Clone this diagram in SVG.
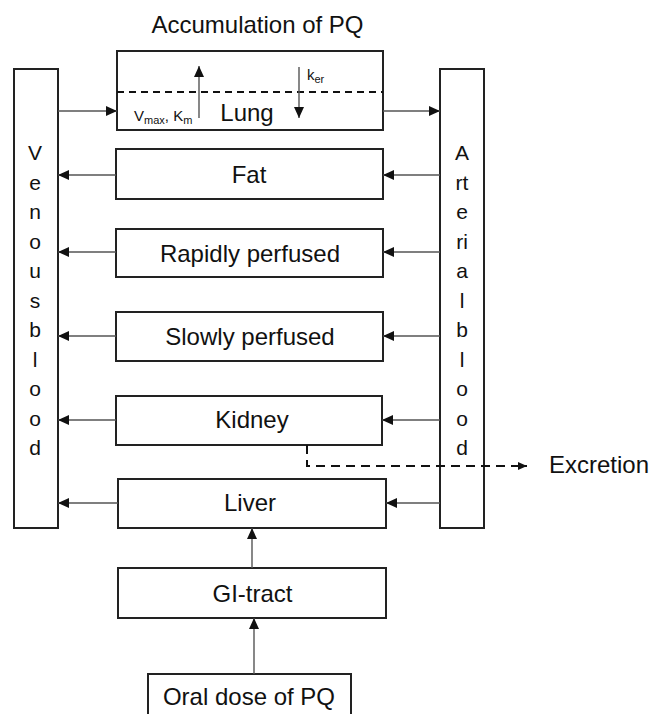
<svg xmlns="http://www.w3.org/2000/svg" width="651" height="714" viewBox="0 0 651 714">
<defs>
<marker id="ah" markerUnits="userSpaceOnUse" markerWidth="12" markerHeight="10" refX="11" refY="5" orient="auto">
<path d="M0,0 L11,5 L0,10 Z" fill="#111"/>
</marker>
<marker id="ahs" markerUnits="userSpaceOnUse" markerWidth="10" markerHeight="8" refX="9" refY="4" orient="auto">
<path d="M0,0 L9,4 L0,8 Z" fill="#111"/>
</marker>
<style>
rect.box{fill:#fff;stroke:#222;stroke-width:2}
text{font-family:"Liberation Sans",Arial,sans-serif;fill:#111}
.lbl{font-size:24px;text-anchor:middle}
.col{font-size:21px;text-anchor:middle}
.sm{font-size:15px}
.sub{font-size:11px}
line.c{stroke:#555;stroke-width:1.4;marker-end:url(#ah)}
line.d{stroke:#111;stroke-width:2;stroke-dasharray:9,6}
</style>
</defs>
<rect width="651" height="714" fill="#fff"/>

<text class="lbl" x="257.5" y="33">Accumulation of PQ</text>

<g id="venous">
<rect class="box" x="14" y="69" width="44" height="459"/>
<text class="col" x="35" y="160">V</text>
<text class="col" x="35" y="189.5">e</text>
<text class="col" x="35" y="219">n</text>
<text class="col" x="35" y="248.5">o</text>
<text class="col" x="35" y="278">u</text>
<text class="col" x="35" y="307.5">s</text>
<text class="col" x="35" y="337">b</text>
<text class="col" x="35" y="366.5">l</text>
<text class="col" x="35" y="396">o</text>
<text class="col" x="35" y="425.5">o</text>
<text class="col" x="35" y="455">d</text>
</g>

<g id="arterial">
<rect class="box" x="440" y="69" width="44" height="459"/>
<text class="col" x="462" y="160">A</text>
<text class="col" x="462" y="189.5">rt</text>
<text class="col" x="462" y="219">e</text>
<text class="col" x="462" y="248.5">ri</text>
<text class="col" x="462" y="278">a</text>
<text class="col" x="462" y="307.5">l</text>
<text class="col" x="462" y="337">b</text>
<text class="col" x="462" y="366.5">l</text>
<text class="col" x="462" y="396">o</text>
<text class="col" x="462" y="425.5">o</text>
<text class="col" x="462" y="455">d</text>
</g>

<g id="lung">
<rect class="box" x="117" y="51" width="266" height="79"/>
<line x1="117" y1="92" x2="383" y2="92" stroke="#111" stroke-width="2" stroke-dasharray="7,5"/>
<line x1="199" y1="118" x2="199" y2="66" stroke="#555" stroke-width="1.4" marker-end="url(#ah)"/>
<line x1="299" y1="67" x2="299" y2="118" stroke="#555" stroke-width="1.4" marker-end="url(#ah)"/>
<text class="lbl" x="247" y="121">Lung</text>
<text x="134" y="121" class="sm">V<tspan class="sub" dy="3">max</tspan><tspan dy="-3">, K</tspan><tspan class="sub" dy="3">m</tspan></text>
<text x="307" y="80" class="sm">k<tspan class="sub" dy="3">er</tspan></text>
</g>

<g id="fat">
<rect class="box" x="116" y="149" width="267" height="50"/>
<text class="lbl" x="249" y="183">Fat</text>
</g>
<g id="rapid">
<rect class="box" x="116" y="229" width="267" height="48"/>
<text class="lbl" x="250" y="262">Rapidly perfused</text>
</g>
<g id="slow">
<rect class="box" x="116" y="312" width="267" height="49"/>
<text class="lbl" x="250" y="345">Slowly perfused</text>
</g>
<g id="kidney">
<rect class="box" x="116" y="396" width="266" height="49"/>
<text class="lbl" x="252" y="428">Kidney</text>
</g>
<g id="liver">
<rect class="box" x="118" y="479" width="268" height="49"/>
<text class="lbl" x="250" y="511">Liver</text>
</g>
<g id="gi">
<rect class="box" x="118" y="568" width="268" height="50"/>
<text class="lbl" x="252.5" y="602">GI-tract</text>
</g>
<g id="oral">
<rect class="box" x="148" y="674" width="203" height="50"/>
<text class="lbl" x="249" y="705">Oral dose of PQ</text>
</g>
<g id="excretion">
<text x="549" y="473" style="font-size:24px">Excretion</text>
</g>

<g id="connectors">
<line class="c" x1="58" y1="111" x2="117" y2="111"/>
<line class="c" x1="383" y1="111" x2="440" y2="111"/>
<line class="c" x1="440" y1="175" x2="383" y2="175"/>
<line class="c" x1="440" y1="252" x2="383" y2="252"/>
<line class="c" x1="440" y1="336" x2="383" y2="336"/>
<line class="c" x1="440" y1="420" x2="382" y2="420"/>
<line class="c" x1="440" y1="503" x2="386" y2="503"/>
<line class="c" x1="116" y1="175" x2="58" y2="175"/>
<line class="c" x1="116" y1="252" x2="58" y2="252"/>
<line class="c" x1="116" y1="336" x2="58" y2="336"/>
<line class="c" x1="116" y1="420" x2="58" y2="420"/>
<line class="c" x1="118" y1="503" x2="58" y2="503"/>
<line class="c" x1="252" y1="568" x2="252" y2="528"/>
<line class="c" x1="254" y1="674" x2="254" y2="618"/>
<path d="M307,445 V466 H518" fill="none" stroke="#111" stroke-width="2" stroke-dasharray="9,6"/>
<line x1="518" y1="466" x2="527" y2="466" stroke="#111" stroke-width="2" marker-end="url(#ahs)"/>
</g>
</svg>
